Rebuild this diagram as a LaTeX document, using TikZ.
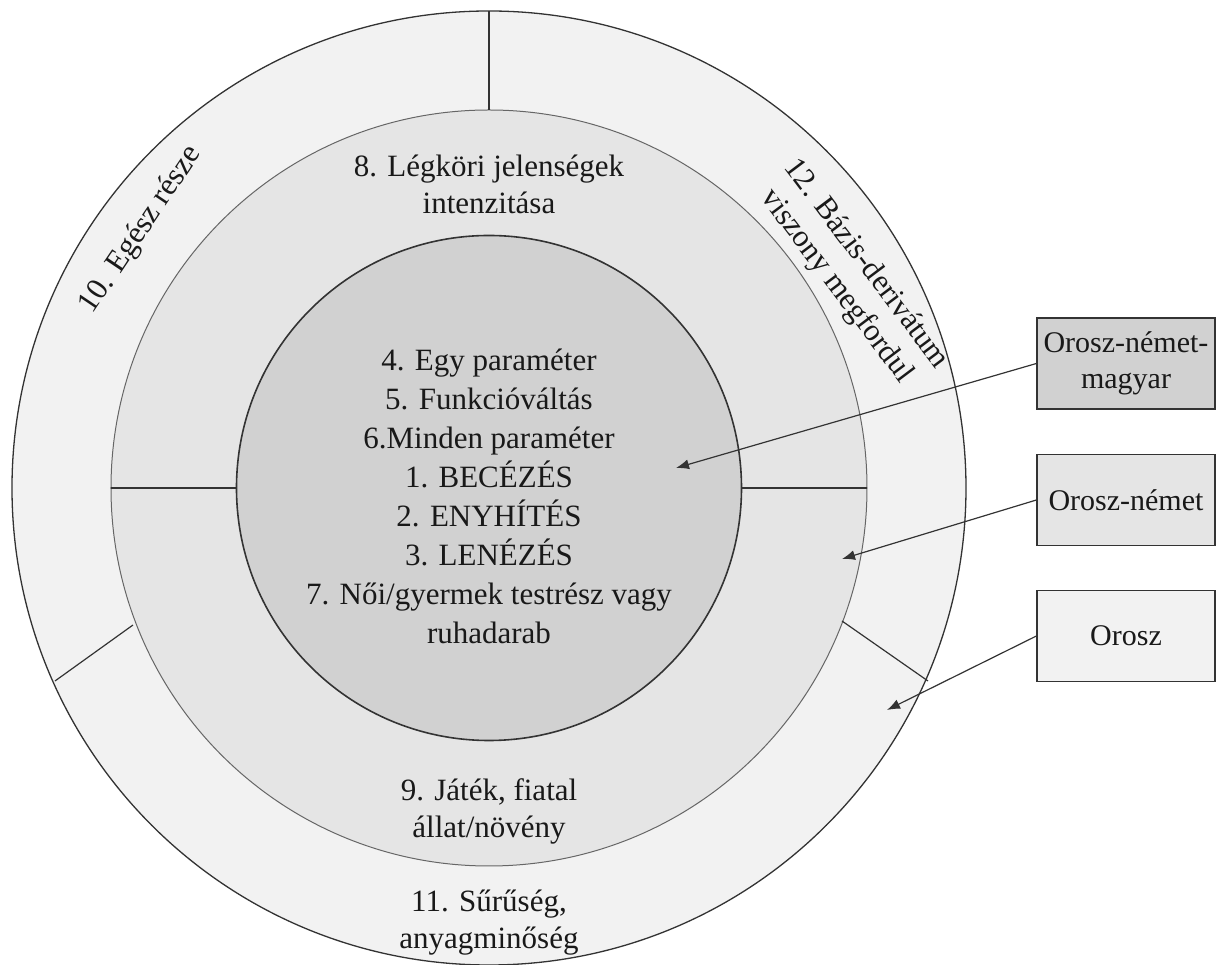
\documentclass[tikz,border=0pt]{standalone}
\usepackage{fontspec}
\setmainfont{Liberation Serif}
\usetikzlibrary{arrows.meta}
\definecolor{OuterClr}{gray}{0.95}
\definecolor{MidClr}{gray}{0.9}
\definecolor{InnerClr}{gray}{0.82}
\definecolor{LineClr}{gray}{0.2}

\begin{document}
\begin{tikzpicture}[x=1pt,y=1pt,
  lbl/.style={font=\fontsize{31}{37}\selectfont,align=center,text=black!90,inner sep=0pt},
  seg/.style={line width=1.2pt,color=LineClr},
  legend/.style={draw=LineClr,line width=1.2pt,minimum width=178pt,minimum height=91pt,
    font=\fontsize{30}{36}\selectfont,align=center,text=black!90},
  pointer/.style={line width=1.2pt,color=LineClr,-{Latex[length=13pt,width=10pt]}}]

\useasboundingbox (-489,-477) rectangle (727,488);

\coordinate (O) at (0,0);

% rings
\fill[OuterClr] (O) circle (477);
\fill[MidClr] (O) circle (378);
\fill[InnerClr] (O) circle (252.5);
\draw[LineClr,line width=1.3pt] (O) circle (477);
\draw[gray!80!black,line width=1pt] (O) circle (378);
\draw[LineClr,line width=1.6pt] (O) circle (252.5);

% dividers
\draw[seg] (90:378) -- (90:477);
\draw[seg] (180:252.5) -- (180:378);
\draw[seg] (0:252.5) -- (0:378);
\draw[seg] (-356,-137) -- (-434,-193);
\draw[seg] (353,-133) -- (439,-193);

% ring labels
\node[lbl,font=\fontsize{31}{39}\selectfont] (core) at (0,-8)
  {4. Egy paraméter\\5. Funkcióváltás\\6.Minden paraméter\\1. BECÉZÉS\\2. ENYHÍTÉS\\3. LENÉZÉS\\7. Női/gyermek testrész vagy\\ruhadarab};
\node[lbl] (ring8) at (0,304) {8. Légköri jelenségek\\intenzitása};
\node[lbl] (ring9) at (0,-323) {9. Játék, fiatal\\állat/növény};
\node[lbl] (ring11) at (0,-435) {11. Sűrűség,\\anyagminőség};
\node[lbl,rotate=56] (ring10) at (-348,258) {10. Egész része};
\node[lbl,rotate=-53] (ring12) at (30.4:420) {12. Bázis-derivátum\\viszony megfordul};

% legend
\coordinate (tipA) at (187,20);
\coordinate (tipB) at (353,-71);
\coordinate (tipC) at (398,-222);

\node[legend,fill=InnerClr] (rnm) at (637,124.5) {Orosz-német-\\magyar};
\node[legend,fill=MidClr] (rn) at (637,-12) {Orosz-német};
\node[legend,fill=OuterClr] (r) at (637,-148) {Orosz};

\draw[pointer] (rnm.west) -- (tipA);
\draw[pointer] (rn.west) -- (tipB);
\draw[pointer] (r.west) -- (tipC);

\end{tikzpicture}
\end{document}
